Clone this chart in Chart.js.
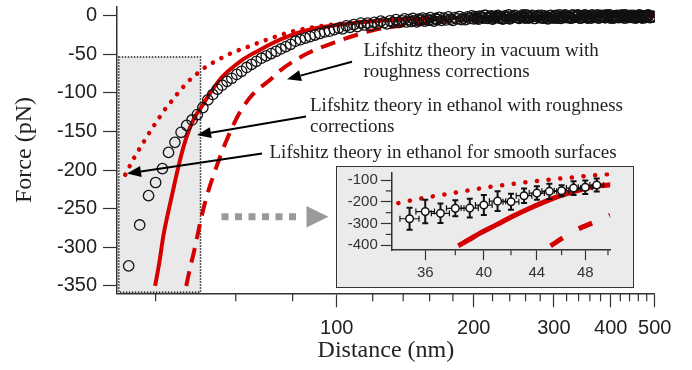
<!DOCTYPE html>
<html>
<head>
<meta charset="utf-8">
<script src="https://cdn.jsdelivr.net/npm/chart.js@4.4.1/dist/chart.umd.min.js"></script>
<style>
  html, body { margin: 0; padding: 0; background: #fff; }
  #wrap { position: relative; width: 692px; height: 370px; }
  #main { position: absolute; left: 0; top: 0; }
  #insetBox { position: absolute; left: 336px; top: 166px; width: 298px; height: 122px;
              box-sizing: border-box; border: 1.5px solid #333; background: #ebebeb; }
  #inset { position: absolute; left: 0; top: 0; }
</style>
</head>
<body>
<div id="wrap">
  <canvas id="main" width="692" height="370"></canvas>
  <div id="insetBox"><canvas id="inset" width="295" height="119"></canvas></div>
</div>
<script>
// Measured force (pN) vs distance (nm), open circles
const expX = [34.9, 36.9, 38.6, 40.0, 41.4, 42.7, 44.1, 45.5, 46.8, 48.1,
  49.4, 50.8, 52.1, 53.4, 54.7, 56.0, 57.4, 58.8, 60.3, 61.8,
  63.4, 65.0, 66.6, 68.3, 70.0, 71.8, 73.6, 75.4, 77.3, 79.2,
  81.2, 83.2, 85.3, 87.4, 89.6, 91.8, 94.1, 96.4, 98.8,
  101, 103, 105, 107, 109, 111, 113, 115, 117, 119,
  121, 123, 125, 127, 129, 131, 133, 135, 137, 139,
  141, 142.5, 144, 145.5, 147, 148.5, 150, 151.5, 153, 154.5,
  156, 157.5, 159, 160.5, 162, 163.5, 165, 166.5, 168, 170,
  172, 174, 176, 178, 180, 182, 184, 186, 188, 190,
  192, 194, 196, 198, 200, 202.5, 205, 207.5, 210, 212.5,
  215, 217.5, 220, 222.5, 225, 227.5, 230, 232.5, 235, 237.5,
  240, 243, 246, 249, 252, 255, 258, 261, 264, 267,
  270, 273, 276, 279, 282, 285, 288, 291, 294, 297,
  300, 303.5, 307, 310.5, 314, 317.5, 321, 324.5, 328, 331.5,
  335, 338.5, 342, 345.5, 349, 352.5, 356, 360, 364, 368,
  372, 376, 380, 384, 388, 392, 396, 400, 404, 408,
  412, 416, 420, 424.5, 429, 433.5, 438, 442.5, 447, 451.5,
  456, 460.5, 465, 469.5, 474, 478.5, 483, 487.5, 492, 496.5,
  201.2, 203.8, 206.2, 208.8, 211.2, 213.8, 216.2, 218.8, 221.2, 223.8,
  226.2, 228.8, 231.2, 233.8, 236.2, 238.8, 241.5, 244.5, 247.5, 250.5,
  253.5, 256.5, 259.5, 262.5, 265.5, 268.5, 271.5, 274.5, 277.5, 280.5,
  283.5, 286.5, 289.5, 292.5, 295.5, 298.5, 301.8, 305.2, 308.8, 312.2,
  315.8, 319.2, 322.8, 326.2, 329.8, 333.2, 336.8, 340.2, 343.8, 347.2,
  350.8, 354.2, 358, 362, 366, 370, 374, 378, 382, 386,
  390, 394, 398, 402, 406, 410, 414, 418, 422.2, 426.8,
  431.2, 435.8, 440.2, 444.8, 449.2, 453.8, 458.2, 462.8, 467.2, 471.8,
  476.2, 480.8, 485.2, 489.8, 494.2];
const expY = [-324, -271, -233, -216, -198, -177, -164, -151, -142, -135,
  -128, -119, -109, -102, -95, -90, -85, -81, -76, -72,
  -67, -63, -59, -55, -52, -49, -46, -43, -40, -37,
  -33, -31, -29, -27, -25, -23, -21, -20, -18,
  -16, -17, -13, -15, -11.5, -14, -9.5, -12, -9.5, -13,
  -8.5, -10.5, -7, -9, -10.5, -6.5, -8.5, -5, -8.5, -6.5,
  -4, -8, -5, -7.5, -3.5, -6.5, -8, -4.5, -6, -3,
  -7, -4, -6, -2.5, -5.5, -7, -3.5, -5, -2, -6,
  -3, -5.5, -1.5, -4.5, -6, -2.5, -4, -1, -5, -3,
  -5, -1.5, -3.5, 0, -4, -2, -4.5, -1, -3, 0.5,
  -3.5, -1, -4.5, -2, 0, -3, -1.5, -4, -0.5, -2.5,
  -4, -1, 0.5, -2.5, -3.5, -0.5, -2, 1, -3, -1.5,
  0, -3.5, -1, -2.5, 0.5, -3, -1.5, -4, 0, -2,
  -3, 0.5, -1, -3.5, -0.5, 1, -2.5, -1, -3, 0,
  -1.5, 1, -3, -0.5, -2, 0.5, -3, -1, 1, -2,
  -0.5, -3, 0.5, -1.5, -2.5, 1, -1, -3, 0, -1.5,
  0.5, -2.5, -1, 1, -3, -0.5, -1.5, 0.5, -2.5, -1,
  -2, 0.5, -1.5, -3, 0, -1, 1, -2.5, -0.5, -1,
  -1, -3.5, -0.5, -2.5, 0.5, -3, -1.5, 0, -3.5, -1,
  0.5, -2.5, -4, -0.5, -2, 1, -3, -1.5, 0, -2.5,
  -1, 1, -3, -0.5, -2, 0.5, -3.5, -1, 0.5, -2,
  -3, 0, -1.5, -3, 0.5, -2, -0.5, -3, 1, -1.5,
  -2.5, 0, -1, -3, 1, -2, -0.5, 0.5, -3, -1,
  1, -2, -0.5, -3, 0, -1.5, 1, -2.5, -1, 0.5,
  -2.5, -0.5, 1, -2, -3, 0, -1.5, 0.5, -2, -1,
  1, -2.5, -0.5, -1.5, 0.5, -3, -1, 1, -2, 0,
  -2.5, -0.5, 0.5, -2, -1.5];

// Lifshitz theory in ethanol with roughness corrections (solid)
const ethRoughX = [39.9, 40.8, 41.6, 42.5, 43.4, 44.7, 46.1, 47.5, 48.9, 50.2, 52.5, 55.5, 58.5, 61.4, 64.5, 67.9, 71.5, 75.1,
  81.7, 90, 103.5, 120, 150, 200, 300, 400, 500];
const ethRoughY = [-350, -318, -285, -258, -234, -200, -169, -146, -130, -120, -102, -82, -69, -59, -51, -44, -37, -31,
  -22.5, -16, -11, -7, -4, -2.2, -1, -0.5, -0.2];

// Lifshitz theory in vacuum with roughness corrections (dashed)
const vacRoughX = [46.7, 47.4, 48.6, 49.3, 50.2, 51.8, 54.1, 57.3, 61.4, 65.6, 71.4, 75.1, 86.1, 98.4, 120, 134, 160, 200, 300, 400, 500];
const vacRoughY = [-350, -332, -305, -288, -266, -234, -200, -161, -124, -101, -83, -71, -49, -35, -19, -14, -9, -5, -2, -1, -0.5];

// Lifshitz theory in ethanol for smooth surfaces (dotted)
const smoothX = [34.3, 35.0, 35.7, 36.5, 37.2, 38.0, 38.8, 39.6, 40.4, 41.2, 42.1, 42.9, 43.9, 44.8, 45.7, 46.7, 47.6, 48.6, 49.6, 50.5,
  52.0, 54.1, 58.9, 64.0, 70.2, 77.1, 83.1, 95, 110, 130, 160, 200, 300, 400, 500];
const smoothY = [-206, -196, -186, -177, -168, -160, -151, -143, -135, -128, -120, -114, -107, -100, -94, -88, -83, -78, -74, -70,
  -65, -59, -48, -40, -31, -23, -18, -12.5, -8.5, -6, -3.8, -2.4, -1.2, -0.7, -0.4];

// Inset (34-50 nm)
const insetX = [35, 36, 37, 38, 39, 40, 41, 42, 43, 44, 45, 46, 47, 48, 49];
const insetY = [-278, -245, -253, -230, -229, -215, -197, -200, -172, -160, -152, -149, -137, -133, -123];
const insetErrY = [51, 54, 45, 37, 43, 46, 45, 37, 33, 31, 35, 25, 32, 31, 30];
const insetErrX = 0.6;
const insetSmoothX = [34.3, 35.0, 35.7, 36.5, 37.2, 38.0, 38.7, 39.6, 40.4, 41.2, 42.1, 42.9, 43.9, 44.8, 45.7, 46.7, 47.6, 48.6, 49.6, 50.2];
const insetSmoothY = [-206, -195, -185, -175, -167, -158, -150, -140, -132, -125, -118, -112, -105, -99, -94, -89, -84, -79, -75, -72];
const insetEthX = [38.2, 39.0, 39.7, 40.9, 42.1, 43.4, 44.75, 46.1, 47.5, 48.9, 50.3];
const insetEthY = [-402, -372, -345, -306, -268, -231, -197, -168, -146, -129, -122];
const insetVacX = [45.1, 46.1, 47.4, 48.6, 50.2];
const insetVacY = [-403, -366, -325, -298, -262];

// Ticks
const xTickVals = [40, 60, 80, 100, 120, 140, 160, 180, 200, 220, 240, 260, 280, 300, 320, 340, 360, 380, 400, 420, 440, 460, 480, 500];
const xTickLabels = [100, 200, 300, 400, 500];
const yTickVals = [-350, -300, -250, -200, -150, -100, -50, 0];
const insetXTicks = [36, 38, 40, 42, 44, 46, 48, 50];
const insetXLabels = [36, 40, 44, 48];
const insetYTicks = [-400, -350, -300, -250, -200, -150, -100];
const insetYLabels = [-400, -300, -200, -100];

// Zoomed region marked on the main plot
const shadeX = [33.2, 50.2];
const shadeY = [-358, -53.5];

const SANS = "'Liberation Sans', Arial, sans-serif";
const SERIF = "'Liberation Serif', 'Times New Roman', serif";
const RED = '#d40000';
const INK = '#222';

const pts = (xs, ys) => xs.map((x, i) => ({x: x, y: ys[i]}));

// Notes with arrows (pixel positions)
const notes = [
    { lines: ['Lifshitz theory in vacuum with', 'roughness corrections'], x: 363.5, y: 56, from: [352, 61.7], to: [287, 79.3] },
    { lines: ['Lifshitz theory in ethanol with roughness', 'corrections'], x: 310, y: 111, from: [306, 116.5], to: [197, 135] },
    { lines: ['Lifshitz theory in ethanol for smooth surfaces'], x: 269.5, y: 158.3, from: [262, 153.5], to: [127, 173.5] }
];

const drawArrow = (ctx, from, to) => {
    const ang = Math.atan2(to[1] - from[1], to[0] - from[0]);
    const len = 14, half = 5.5;
    const bx = to[0] - len * Math.cos(ang), by = to[1] - len * Math.sin(ang);
    ctx.beginPath();
    ctx.moveTo(from[0], from[1]);
    ctx.lineTo(bx, by);
    ctx.stroke();
    ctx.beginPath();
    ctx.moveTo(to[0], to[1]);
    ctx.lineTo(bx - half * Math.sin(ang), by + half * Math.cos(ang));
    ctx.lineTo(bx + half * Math.sin(ang), by - half * Math.cos(ang));
    ctx.closePath();
    ctx.fill();
};

const mainExtras = {
    id: 'mainExtras',
    beforeDatasetsDraw(chart) {
        const {ctx, scales: {x, y}} = chart;
        const l = x.getPixelForValue(shadeX[0]), r = x.getPixelForValue(shadeX[1]);
        const t = y.getPixelForValue(shadeY[1]), b = y.getPixelForValue(shadeY[0]);
        ctx.save();
        ctx.fillStyle = '#e9e9e9';
        ctx.fillRect(l, t, r - l, b - t);
        ctx.strokeStyle = '#222';
        ctx.lineWidth = 1.5;
        ctx.setLineDash([1.5, 1.5]);
        ctx.strokeRect(l, t, r - l, b - t);
        ctx.restore();
    },
    afterDraw(chart) {
        const {ctx, scales: {x}, chartArea} = chart;
        ctx.save();
        // minor ticks on the distance axis
        ctx.strokeStyle = '#333';
        ctx.lineWidth = 1.2;
        xTickVals.filter(v => !xTickLabels.includes(v)).forEach(v => {
            const px = x.getPixelForValue(v);
            ctx.beginPath();
            ctx.moveTo(px, chartArea.bottom);
            ctx.lineTo(px, chartArea.bottom + 8);
            ctx.stroke();
        });
        // grey arrow towards the inset
        ctx.strokeStyle = '#9a9a9a';
        ctx.fillStyle = '#9a9a9a';
        ctx.lineWidth = 7;
        ctx.setLineDash([7, 6.5]);
        ctx.beginPath();
        ctx.moveTo(221.5, 216.7);
        ctx.lineTo(302, 216.7);
        ctx.stroke();
        ctx.setLineDash([]);
        ctx.beginPath();
        ctx.moveTo(306.5, 206);
        ctx.lineTo(328.5, 216.7);
        ctx.lineTo(306.5, 227.4);
        ctx.closePath();
        ctx.fill();
        // notes
        ctx.strokeStyle = '#000';
        ctx.fillStyle = '#000';
        ctx.lineWidth = 2;
        notes.forEach(n => drawArrow(ctx, n.from, n.to));
        ctx.fillStyle = INK;
        ctx.font = '19px ' + SERIF;
        ctx.textBaseline = 'alphabetic';
        notes.forEach(n => n.lines.forEach((s, i) => ctx.fillText(s, n.x, n.y + i * 21)));
        ctx.restore();
    }
};

new Chart(document.getElementById('main'), {
    type: 'scatter',
    data: {
        datasets: [
            {
                label: 'Experiment',
                data: pts(expX, expY),
                showLine: false,
                pointRadius: 5.2,
                pointBorderWidth: 1.3,
                pointBorderColor: '#111',
                pointBackgroundColor: 'rgba(0,0,0,0)'
            },
            {
                label: 'Ethanol, rough',
                data: pts(ethRoughX, ethRoughY),
                showLine: true,
                borderColor: RED,
                borderWidth: 4,
                pointRadius: 0,
                cubicInterpolationMode: 'monotone'
            },
            {
                label: 'Vacuum, rough',
                data: pts(vacRoughX, vacRoughY),
                showLine: true,
                borderColor: RED,
                borderWidth: 4,
                borderDash: [15, 9],
                pointRadius: 0,
                cubicInterpolationMode: 'monotone'
            },
            {
                label: 'Ethanol, smooth',
                data: pts(smoothX, smoothY),
                showLine: true,
                borderColor: RED,
                borderWidth: 4.5,
                borderDash: [0.1, 9.5],
                borderCapStyle: 'round',
                pointRadius: 0,
                cubicInterpolationMode: 'monotone'
            }
        ]
    },
    options: {
        responsive: false,
        animation: false,
        layout: { padding: { top: 6.7, right: 37.2, bottom: 0, left: 0 } },
        plugins: { legend: { display: false }, tooltip: { enabled: false } },
        scales: {
            x: {
                type: 'logarithmic',
                min: 32.9,
                max: 500,
                afterBuildTicks: s => { s.ticks = xTickVals.map(v => ({value: v})); },
                afterFit: s => { s.height = 76.7; s.paddingLeft = 0; s.paddingRight = 0; },
                border: { color: '#333', width: 1.5 },
                grid: {
                    drawOnChartArea: false,
                    tickLength: 14,
                    tickWidth: 1.2,
                    tickColor: c => (c.tick && xTickLabels.includes(c.tick.value)) ? '#333' : 'rgba(0,0,0,0)'
                },
                ticks: {
                    autoSkip: false,
                    maxRotation: 0,
                    padding: 9,
                    color: INK,
                    font: { family: SANS, size: 20 },
                    callback: v => xTickLabels.includes(v) ? String(v) : ''
                },
                title: {
                    display: true,
                    text: 'Distance (nm)',
                    color: INK,
                    font: { family: SERIF, size: 24 },
                    padding: { top: 0, bottom: 4.5 }
                }
            },
            y: {
                min: -359.5,
                max: 11.7,
                afterBuildTicks: s => { s.ticks = yTickVals.map(v => ({value: v})); },
                afterFit: s => { s.width = 117; s.paddingTop = 0; s.paddingBottom = 0; },
                border: { color: '#333', width: 1.5 },
                grid: { drawOnChartArea: false, tickLength: 14, tickWidth: 1.2, tickColor: '#333' },
                ticks: { padding: 6, color: INK, font: { family: SANS, size: 20 } },
                title: {
                    display: true,
                    text: 'Force (pN)',
                    color: INK,
                    font: { family: SERIF, size: 24 },
                    padding: { top: 10.5, bottom: 0 }
                }
            }
        }
    },
    plugins: [mainExtras]
});

// Inset: error bars under the points, minor ticks
const insetExtras = {
    id: 'insetExtras',
    beforeDatasetDraw(chart, args) {
        if (args.index !== 0) return;
        const {ctx, scales: {x, y}} = chart;
        ctx.save();
        ctx.strokeStyle = '#111';
        insetX.forEach((v, i) => {
            const px = x.getPixelForValue(v), py = y.getPixelForValue(insetY[i]);
            const top = y.getPixelForValue(insetY[i] + insetErrY[i]);
            const bot = y.getPixelForValue(insetY[i] - insetErrY[i]);
            const lx = x.getPixelForValue(v - insetErrX), rx = x.getPixelForValue(v + insetErrX);
            ctx.lineWidth = 1.2;
            ctx.beginPath();
            ctx.moveTo(lx, py); ctx.lineTo(rx, py);
            ctx.moveTo(lx, py - 3); ctx.lineTo(lx, py + 3);
            ctx.moveTo(rx, py - 3); ctx.lineTo(rx, py + 3);
            ctx.stroke();
            ctx.lineWidth = 2;
            ctx.beginPath();
            ctx.moveTo(px, top); ctx.lineTo(px, bot);
            ctx.moveTo(px - 3, top); ctx.lineTo(px + 3, top);
            ctx.moveTo(px - 3, bot); ctx.lineTo(px + 3, bot);
            ctx.stroke();
        });
        ctx.restore();
    },
    afterDraw(chart) {
        const {ctx, scales: {x, y}, chartArea} = chart;
        ctx.save();
        ctx.strokeStyle = '#333';
        ctx.lineWidth = 1.2;
        insetXTicks.filter(v => !insetXLabels.includes(v)).forEach(v => {
            const px = x.getPixelForValue(v);
            ctx.beginPath();
            ctx.moveTo(px, chartArea.bottom);
            ctx.lineTo(px, chartArea.bottom + 5);
            ctx.stroke();
        });
        insetYTicks.filter(v => !insetYLabels.includes(v)).forEach(v => {
            const py = y.getPixelForValue(v);
            ctx.beginPath();
            ctx.moveTo(chartArea.left, py);
            ctx.lineTo(chartArea.left - 6, py);
            ctx.stroke();
        });
        ctx.restore();
    }
};

new Chart(document.getElementById('inset'), {
    type: 'scatter',
    data: {
        datasets: [
            {
                label: 'Experiment (mean)',
                data: pts(insetX, insetY),
                showLine: false,
                pointRadius: 3.8,
                pointBorderWidth: 1.5,
                pointBorderColor: '#111',
                pointBackgroundColor: '#fff'
            },
            {
                label: 'Ethanol, rough',
                data: pts(insetEthX, insetEthY),
                showLine: true,
                borderColor: RED,
                borderWidth: 5,
                pointRadius: 0,
                cubicInterpolationMode: 'monotone'
            },
            {
                label: 'Vacuum, rough',
                data: pts(insetVacX, insetVacY),
                showLine: true,
                borderColor: RED,
                borderWidth: 5,
                borderDash: [14.5, 18.5],
                pointRadius: 0,
                cubicInterpolationMode: 'monotone'
            },
            {
                label: 'Ethanol, smooth',
                data: pts(insetSmoothX, insetSmoothY),
                showLine: true,
                borderColor: RED,
                borderWidth: 4.5,
                borderDash: [0.1, 11.6],
                borderCapStyle: 'round',
                pointRadius: 0,
                cubicInterpolationMode: 'monotone'
            }
        ]
    },
    options: {
        responsive: false,
        animation: false,
        layout: { padding: { top: 3.8, right: 21.8, bottom: 0, left: 0 } },
        plugins: { legend: { display: false }, tooltip: { enabled: false } },
        scales: {
            x: {
                type: 'logarithmic',
                min: 33.9,
                max: 50.2,
                afterBuildTicks: s => { s.ticks = insetXTicks.map(v => ({value: v})); },
                afterFit: s => { s.height = 35.8; s.paddingLeft = 0; s.paddingRight = 0; },
                border: { color: '#333', width: 1.5 },
                grid: {
                    drawOnChartArea: false,
                    tickLength: 10,
                    tickWidth: 1.2,
                    tickColor: c => (c.tick && insetXLabels.includes(c.tick.value)) ? '#333' : 'rgba(0,0,0,0)'
                },
                ticks: {
                    autoSkip: false,
                    maxRotation: 0,
                    padding: 4,
                    color: '#333',
                    font: { family: SANS, size: 15 },
                    callback: v => insetXLabels.includes(v) ? String(v) : ''
                }
            },
            y: {
                min: -422.5,
                max: -65.3,
                afterBuildTicks: s => { s.ticks = insetYTicks.map(v => ({value: v})); },
                afterFit: s => { s.width = 54.8; s.paddingTop = 0; s.paddingBottom = 0; },
                border: { color: '#333', width: 1.5 },
                grid: {
                    drawOnChartArea: false,
                    tickLength: 11,
                    tickWidth: 1.2,
                    tickColor: c => (c.tick && insetYLabels.includes(c.tick.value)) ? '#333' : 'rgba(0,0,0,0)'
                },
                ticks: {
                    padding: 3,
                    color: '#333',
                    font: { family: SANS, size: 15 },
                    callback: v => insetYLabels.includes(v) ? String(v) : ''
                }
            }
        }
    },
    plugins: [insetExtras]
});
</script>
</body>
</html>
